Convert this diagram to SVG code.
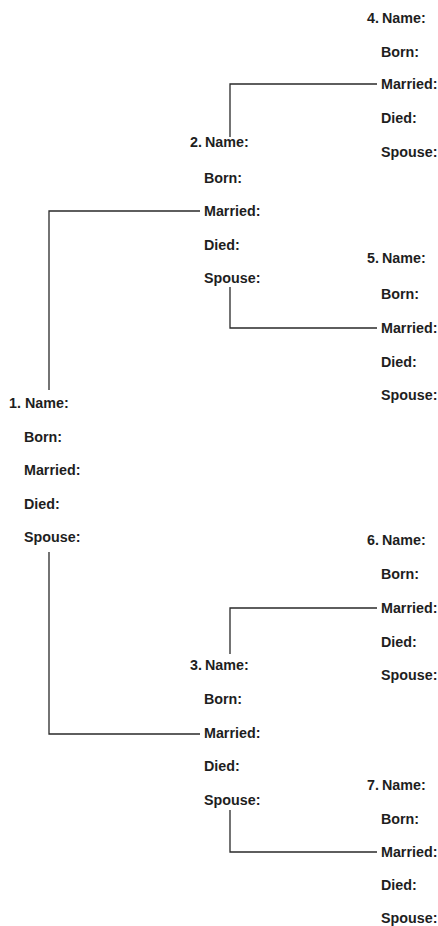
<svg xmlns="http://www.w3.org/2000/svg" width="438" height="926" viewBox="0 0 438 926">
<style>
text{font-family:"Liberation Sans",Arial,sans-serif;font-weight:bold;font-size:14.3px;fill:#1e1e1e}
.n{text-anchor:end}
.c{fill:none;stroke:#2a2a2a;stroke-width:1.3}
</style>
<rect width="438" height="926" fill="#fff"/>
<g id="connectors">
<path class="c" d="M49,390 V211 H200"/>
<path class="c" d="M49,552 V734 H200"/>
<path class="c" d="M230,137 V84 H377"/>
<path class="c" d="M230,287 V328 H377"/>
<path class="c" d="M230,654 V608 H377"/>
<path class="c" d="M230,810 V852 H377"/>
</g>
<g id="node1">
<text class="n" x="21" y="408">1.</text>
<text x="25" y="408">Name:</text>
<text x="24" y="442">Born:</text>
<text x="24" y="475">Married:</text>
<text x="24" y="509">Died:</text>
<text x="24" y="542">Spouse:</text>
</g>
<g id="node2">
<text class="n" x="202" y="147">2.</text>
<text x="205" y="147">Name:</text>
<text x="204" y="183">Born:</text>
<text x="204" y="216">Married:</text>
<text x="204" y="250">Died:</text>
<text x="204" y="283">Spouse:</text>
</g>
<g id="node3">
<text class="n" x="202" y="670">3.</text>
<text x="205" y="670">Name:</text>
<text x="204" y="704">Born:</text>
<text x="204" y="738">Married:</text>
<text x="204" y="771">Died:</text>
<text x="204" y="805">Spouse:</text>
</g>
<g id="node4">
<text class="n" x="379" y="23">4.</text>
<text x="382" y="23">Name:</text>
<text x="381" y="57">Born:</text>
<text x="381" y="89">Married:</text>
<text x="381" y="123">Died:</text>
<text x="381" y="157">Spouse:</text>
</g>
<g id="node5">
<text class="n" x="379" y="263">5.</text>
<text x="382" y="263">Name:</text>
<text x="381" y="299">Born:</text>
<text x="381" y="333">Married:</text>
<text x="381" y="367">Died:</text>
<text x="381" y="400">Spouse:</text>
</g>
<g id="node6">
<text class="n" x="379" y="545">6.</text>
<text x="382" y="545">Name:</text>
<text x="381" y="579">Born:</text>
<text x="381" y="613">Married:</text>
<text x="381" y="647">Died:</text>
<text x="381" y="680">Spouse:</text>
</g>
<g id="node7">
<text class="n" x="379" y="790">7.</text>
<text x="382" y="790">Name:</text>
<text x="381" y="824">Born:</text>
<text x="381" y="857">Married:</text>
<text x="381" y="890">Died:</text>
<text x="381" y="923">Spouse:</text>
</g>
</svg>
